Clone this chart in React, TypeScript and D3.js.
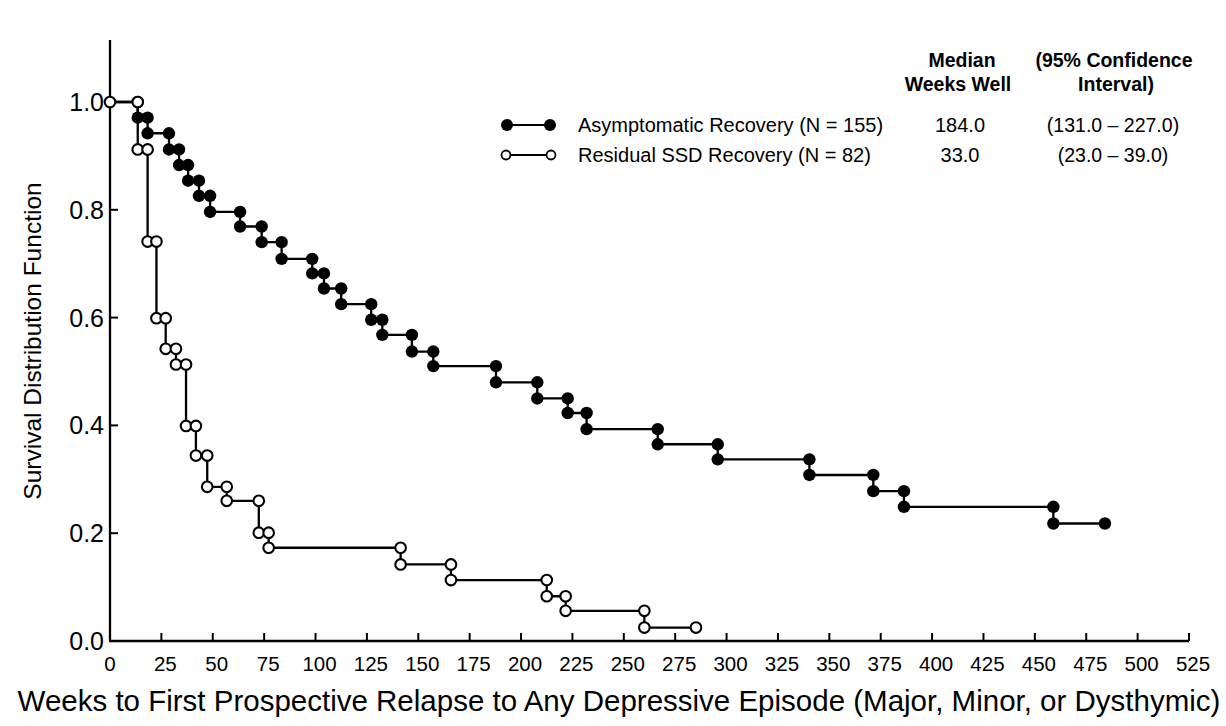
import React from "react";
import * as d3 from "d3";

// Asymptomatic Recovery (filled): event times (weeks) and survival after each drop
const asympTimes = [13.5, 18.3, 28.7, 33.6, 38.0, 43.3, 48.7, 63.3, 73.8, 83.5, 98.4, 104.1, 112.5, 127.1, 132.5, 146.9, 157.3, 187.8, 207.9, 222.7, 231.9, 266.5, 295.7, 340.3, 371.4, 386.3, 459.0];
const asympSurv = [0.971, 0.942, 0.912, 0.883, 0.854, 0.826, 0.796, 0.769, 0.740, 0.709, 0.682, 0.654, 0.625, 0.596, 0.568, 0.537, 0.510, 0.480, 0.450, 0.423, 0.393, 0.365, 0.337, 0.308, 0.278, 0.249, 0.218];
const asympEnd = 484.1;

// Residual SSD Recovery (open)
const residTimes = [13.5, 18.3, 22.6, 27.1, 32.1, 37.0, 41.8, 47.3, 56.8, 72.4, 77.2, 141.4, 165.9, 212.5, 221.7, 260.0];
const residSurv = [0.912, 0.741, 0.599, 0.542, 0.513, 0.399, 0.344, 0.286, 0.260, 0.201, 0.173, 0.142, 0.113, 0.083, 0.056, 0.025];
const residEnd = 285.1;

const xTicks = d3.range(0, 526, 25);
const yTicks = [0, 0.2, 0.4, 0.6, 0.8, 1.0];

const legendLabels = ["Asymptomatic Recovery (N = 155)", "Residual SSD Recovery (N = 82)"];
const legendMedians = ["184.0", "33.0"];
const legendCIs = ["(131.0 \u2013 227.0)", "(23.0 \u2013 39.0)"];

const FONT = "'Liberation Sans', Arial, Helvetica, sans-serif";

function buildSteps(times: number[], surv: number[], end: number) {
  const pts: [number, number][] = [[0, 1]];
  const markers: [number, number][] = [];
  let prev = 1;
  times.forEach((t, i) => {
    pts.push([t, prev]);
    markers.push([t, prev]);
    pts.push([t, surv[i]]);
    markers.push([t, surv[i]]);
    prev = surv[i];
  });
  pts.push([end, prev]);
  markers.push([end, prev]);
  return { pts, markers };
}

export default function App() {
  const W = 1226, H = 726;
  const x = d3.scaleLinear().domain([0, 525]).range([110, 1189]);
  const y = d3.scaleLinear().domain([0, 1]).range([641, 102]);
  const line = d3.line<[number, number]>().x(d => x(d[0])).y(d => y(d[1]));

  const A = buildSteps(asympTimes, asympSurv, asympEnd);
  const R = buildSteps(residTimes, residSurv, residEnd);
  const r = 6.2;

  return (
    <svg width={W} height={H} style={{ position: "absolute", left: 0, top: 0, background: "#fff" }} fontFamily={FONT}>
      <rect x={0} y={0} width={W} height={H} fill="#fff" />
      {/* axes */}
      <line x1={x(0)} x2={x(0)} y1={40} y2={y(0)} stroke="#000" strokeWidth={2.3} />
      <line x1={x(0) - 1} x2={x(525)} y1={y(0)} y2={y(0)} stroke="#000" strokeWidth={2.3} />
      {xTicks.map(t => (
        <g key={"xt" + t}>
          {t > 0 && <line x1={x(t)} x2={x(t)} y1={y(0)} y2={y(0) - 8} stroke="#000" strokeWidth={2} />}
          <text x={x(t) + (t > 0 ? 4 : 0)} y={671} fontSize={20.5} textAnchor="middle" fill="#000">{t}</text>
        </g>
      ))}
      {yTicks.map(v => (
        <g key={"yt" + v}>
          {v > 0 && <line x1={x(0)} x2={x(0) + 8} y1={y(v)} y2={y(v)} stroke="#000" strokeWidth={2} />}
          <text x={104} y={y(v) + 9} fontSize={25} textAnchor="end" fill="#000">{v.toFixed(1)}</text>
        </g>
      ))}
      <text transform={`translate(41,341) rotate(-90)`} fontSize={24.5} textAnchor="middle" fill="#000">Survival Distribution Function</text>
      <text x={619} y={711} fontSize={29.5} textAnchor="middle" fill="#000">Weeks to First Prospective Relapse to Any Depressive Episode (Major, Minor, or Dysthymic)</text>

      {/* filled curve */}
      <path d={line(A.pts) || ""} fill="none" stroke="#000" strokeWidth={2.3} />
      {A.markers.map((m, i) => (
        <circle key={"a" + i} cx={x(m[0])} cy={y(m[1])} r={r} fill="#000" />
      ))}
      {/* open curve */}
      <path d={line(R.pts) || ""} fill="none" stroke="#000" strokeWidth={2.3} />
      {[[0, 1] as [number, number], ...R.markers].map((m, i) => (
        <circle key={"r" + i} cx={x(m[0])} cy={y(m[1])} r={r - 0.9} fill="#fff" stroke="#000" strokeWidth={2.1} />
      ))}

      {/* legend */}
      <g fontWeight="bold" fontSize={19.5} textAnchor="middle" fill="#000">
        <text x={962} y={67}>Median</text>
        <text x={958} y={91}>Weeks Well</text>
        <text x={1114} y={67}>(95% Confidence</text>
        <text x={1116} y={91}>Interval)</text>
      </g>
      {[0, 1].map(i => {
        const ly = 125 + i * 30;
        return (
          <g key={"lg" + i}>
            <line x1={507} x2={550} y1={ly} y2={ly} stroke="#000" strokeWidth={2} />
            {i === 0 ? (
              <>
                <circle cx={507} cy={ly} r={6} fill="#000" />
                <circle cx={550} cy={ly} r={6} fill="#000" />
              </>
            ) : (
              <>
                <circle cx={506} cy={ly} r={4.5} fill="#fff" stroke="#000" strokeWidth={1.8} />
                <circle cx={551} cy={ly} r={4.5} fill="#fff" stroke="#000" strokeWidth={1.8} />
              </>
            )}
            <text x={578} y={ly + 7} fontSize={20} fill="#000">{legendLabels[i]}</text>
            <text x={960} y={ly + 7} fontSize={20} textAnchor="middle" fill="#000">{legendMedians[i]}</text>
            <text x={1113} y={ly + 7} fontSize={19.5} textAnchor="middle" fill="#000">{legendCIs[i]}</text>
          </g>
        );
      })}
    </svg>
  );
}
